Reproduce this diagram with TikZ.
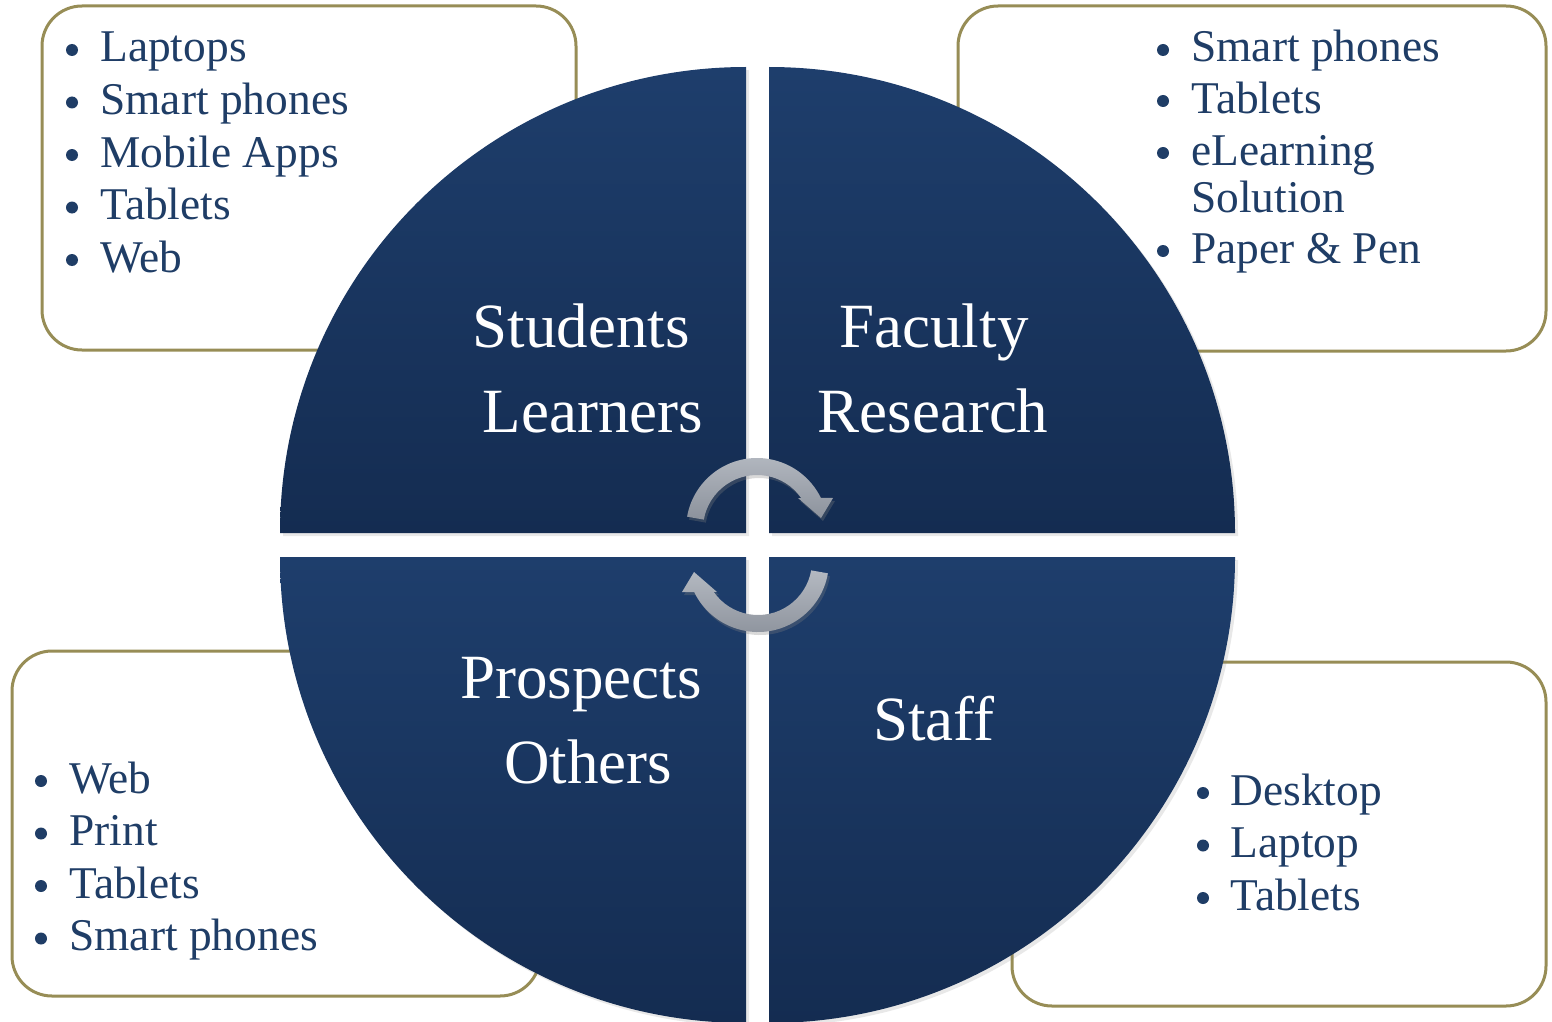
\documentclass[tikz,border=0pt]{standalone}
\usepackage{fontspec}
\setmainfont{Liberation Serif}
\usetikzlibrary{calc,shadows}
\definecolor{paper}{HTML}{FFFFFF}
\definecolor{ink}{HTML}{1F3D66}
\definecolor{frame}{HTML}{978D56}
\definecolor{navytop}{HTML}{1E3E6C}
\definecolor{navybot}{HTML}{142C51}
\definecolor{steeltop}{HTML}{B4B9C1}
\definecolor{steelbot}{HTML}{8C929C}
\newcommand{\Rad}{466}
\newcommand{\ItemGap}{52.5}

\begin{document}
\begin{tikzpicture}[x=0.5pt, y=-0.5pt,
    listbox/.style={draw=frame, line width=1.5pt, fill=paper, rounded corners=20pt},
    segment/.style={top color=navytop, bottom color=navybot, draw=none,
      drop shadow={opacity=0.18, shadow xshift=1.5pt, shadow yshift=-1.5pt}},
    bigtext/.style={anchor=base, text=white, inner sep=0pt, font=\fontsize{31.5}{36}\selectfont},
    item/.style={anchor=base west, text=ink, inner sep=0pt, font=\fontsize{22.7}{26}\selectfont},
    cyclearrow/.style={top color=steeltop, bottom color=steelbot, draw=none,
      drop shadow={opacity=0.3, shadow xshift=1pt, shadow yshift=-1.5pt}},
  ]
\useasboundingbox (0,0) rectangle (1552,1022);

% --- The four boxes of devices ---------------------------------------------------
\draw[listbox] (42,6) rectangle (576,350);
\draw[listbox] (958,6) rectangle (1546,351);
\draw[listbox] (12,651) rectangle (540,996);
\draw[listbox] (1012,662) rectangle (1546,1006);

% --- The pie: four quarters --------------------------------------------------------
\path[segment] (746,533) -- ++(-\Rad,0) arc[start angle=180, end angle=270, radius=\Rad] -- cycle;
\path[segment] (769,533) -- ++(0,-\Rad) arc[start angle=270, end angle=360, radius=\Rad] -- cycle;
\path[segment] (769,557) -- ++(\Rad,0) arc[start angle=0, end angle=90, radius=\Rad] -- cycle;
\path[segment] (746,557) -- ++(0,\Rad) arc[start angle=90, end angle=180, radius=\Rad] -- cycle;

\node[bigtext] (students) at (581,347) {Students};
\node[bigtext] (learners) at (593,432) {Learners};
\node[bigtext] (faculty) at (934,347) {Faculty};
\node[bigtext] (research) at (933,432) {Research};
\node[bigtext] (prospects) at (581,698) {Prospects};
\node[bigtext] (others) at (588,783) {Others};
\node[bigtext] (staff) at (934,740) {Staff};

% --- The cycle in the middle ----------------------------------------------------
\coordinate (hubA) at (757,529);
\coordinate (hubB) at (758,561);
\path[cyclearrow] ($(hubA)+(190:71)$) arc[start angle=190, end angle=334, radius=71]
  -- ($(hubA)+(76,-31)$) -- ($(hubA)+(64,-11)$) -- ($(hubA)+(41,-31)$)
  -- ($(hubA)+(325:54)$) arc[start angle=325, end angle=190, radius=54] -- cycle;
\path[cyclearrow] ($(hubB)+(10:71)$) arc[start angle=10, end angle=154, radius=71]
  -- ($(hubB)+(-76,31)$) -- ($(hubB)+(-64,11)$) -- ($(hubB)+(-41,31)$)
  -- ($(hubB)+(145:54)$) arc[start angle=145, end angle=10, radius=54] -- cycle;

% --- Students -------------------------------------------------------------------
\foreach \k/\txt in {0/Laptops, 1/Smart phones, 2/Mobile Apps, 3/Tablets, 4/Web} {
  \node[item] (st\k) at (100, 62+\k*\ItemGap) {\txt};
  \fill[ink] (72, 50+\k*\ItemGap) circle[radius=6];
}

% --- Faculty --------------------------------------------------------------------
\foreach \k/\y/\txt in {0/62/Smart phones, 1/113/Tablets, 2/165/eLearning, 3/212/Solution, 4/263/Paper \& Pen} {
  \node[item] (fa\k) at (1191,\y) {\txt};
}
\foreach \y in {62,113,165,263} {
  \fill[ink] (1163,\y-12) circle[radius=6];
}

% --- Prospects ------------------------------------------------------------------
\foreach \k/\txt in {0/Web, 1/Print, 2/Tablets, 3/Smart phones} {
  \node[item] (pr\k) at (69, 793+\k*\ItemGap) {\txt};
  \fill[ink] (41, 781+\k*\ItemGap) circle[radius=6];
}

% --- Staff ----------------------------------------------------------------------
\foreach \k/\txt in {0/Desktop, 1/Laptop, 2/Tablets} {
  \node[item] (sf\k) at (1230, 805+\k*\ItemGap) {\txt};
  \fill[ink] (1203, 793+\k*\ItemGap) circle[radius=6];
}

\end{tikzpicture}
\end{document}
